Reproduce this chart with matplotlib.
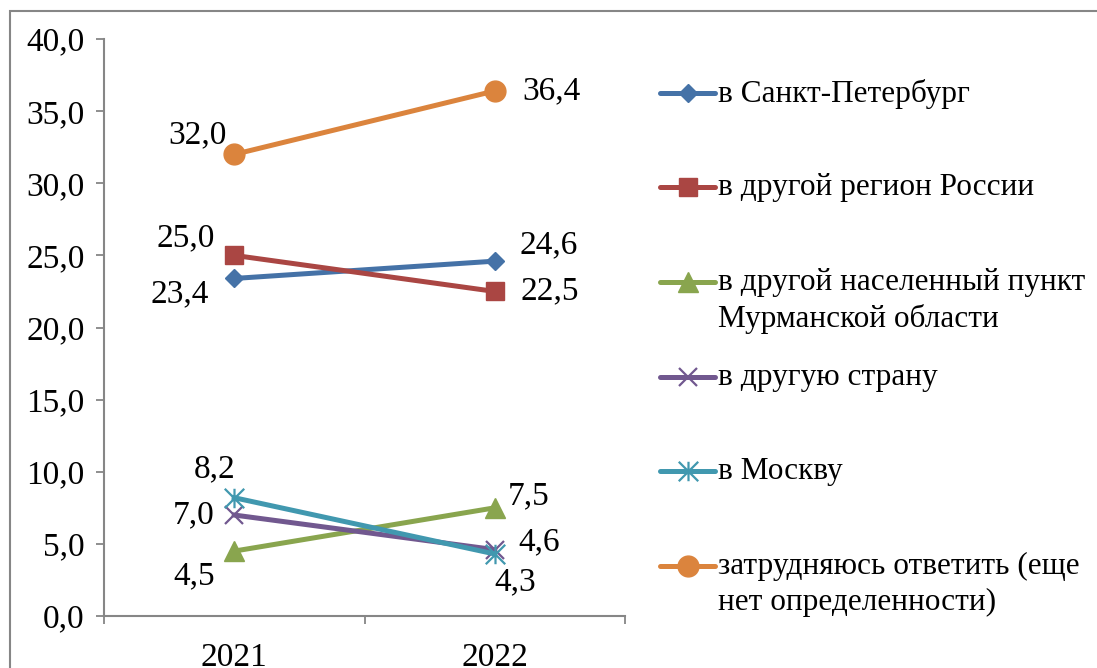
import matplotlib

matplotlib.use("Agg")
import matplotlib.pyplot as plt
from matplotlib.lines import Line2D
from matplotlib.patches import Rectangle
from matplotlib.path import Path

plt.rcParams["font.family"] = ["Liberation Serif", "DejaVu Serif"]

years = ["2021", "2022"]
labels = [
    "в Санкт-Петербург",
    "в другой регион России",
    "в другой населенный пункт\nМурманской области",
    "в другую страну",
    "в Москву",
    "затрудняюсь ответить (еще\nнет определенности)",
]
spb = [23.4, 24.6]
other_region = [25.0, 22.5]
murmansk_town = [4.5, 7.5]
abroad = [7.0, 4.6]
moscow = [8.2, 4.3]
undecided = [32.0, 36.4]

W, H = 1097, 668
FS = 24
FS_LEG = 22.5

# asterisk like the Excel "star" marker: x plus a vertical bar
star = Path(
    [(-0.5, -0.5), (0.5, 0.5), (-0.5, 0.5), (0.5, -0.5), (0, -0.5), (0, 0.5)],
    [Path.MOVETO, Path.LINETO, Path.MOVETO, Path.LINETO, Path.MOVETO, Path.LINETO],
)

series = [
    (spb, "#4572A7", dict(marker="D", ms=9.5)),
    (other_region, "#AA4643", dict(marker="s", ms=13)),
    (murmansk_town, "#89A54E", dict(marker="^", ms=15)),
    (abroad, "#71588F", dict(marker="x", ms=13, mew=1.6)),
    (moscow, "#4198AF", dict(marker=star, ms=14, mew=1.6)),
    (undecided, "#DB843D", dict(marker="o", ms=15)),
]

# label offsets in pixels from each point (2021, 2022)
offsets = [
    [(-55, -16), (54, 16)],
    [(-49, 17), (55, 0)],
    [(-40, -25), (34, 12)],
    [(-41, 0), (44, 8)],
    [(-20, 29), (20, -28)],
    [(-37, 19), (57, 0)],
]

fig = plt.figure(figsize=(W / 100, H / 100), dpi=100)
ax = fig.add_axes([104 / W, (H - 616) / H, (625 - 104) / W, (616 - 39) / H])

x = list(range(len(years)))
for (vals, color, mk), offs in zip(series, offsets):
    ax.plot(x, vals, color=color, lw=3.6, mfc=color, mec=color, clip_on=False, **mk)
    for xi, v, off in zip(x, vals, offs):
        ax.annotate(f"{v:.1f}".replace(".", ","), (xi, v), xytext=off,
                    textcoords="offset pixels", ha="center", va="center", fontsize=FS)

ax.set_xlim(-0.5, len(years) - 0.5)
ax.set_ylim(0, 40)
ax.set_yticks(range(0, 41, 5))
ax.set_yticklabels([f"{t:.1f}".replace(".", ",") for t in range(0, 41, 5)], fontsize=FS)
ax.set_xticks(x)
ax.set_xticklabels(years, fontsize=FS)
ax.set_xticks([-0.5, 0.5, 1.5], minor=True)
ax.tick_params(axis="x", which="major", length=0, pad=19)
ax.tick_params(axis="x", which="minor", length=6, width=1.3, color="#868686")
ax.tick_params(axis="y", length=6, width=1.3, color="#868686", pad=8)
for side in ("top", "right"):
    ax.spines[side].set_visible(False)
for side in ("left", "bottom"):
    ax.spines[side].set_color("#868686")
    ax.spines[side].set_linewidth(1.5)

# legend drawn by hand so the marker sits on the first text line like in Excel
leg_y = [93, 187, 282, 377, 471, 566]
for (vals, color, mk), lab, ly in zip(series, labels, leg_y):
    yf = 1 - ly / H
    fig.add_artist(Line2D([660 / W, 715 / W], [yf, yf], color=color, lw=3.6,
                          solid_capstyle="round"))
    fig.add_artist(Line2D([688 / W], [yf], color=color, mfc=color, mec=color, **mk))
    fig.text(718 / W, 1 - (ly - 14) / H, lab, fontsize=FS_LEG, va="top", ha="left",
             linespacing=1.3)

fig.add_artist(Rectangle((10 / W, -0.1), 1.2, 1 - 11 / H + 0.1, fill=False,
                         edgecolor="#868686", lw=1.5, transform=fig.transFigure))

fig.savefig("out.png", dpi=100)
